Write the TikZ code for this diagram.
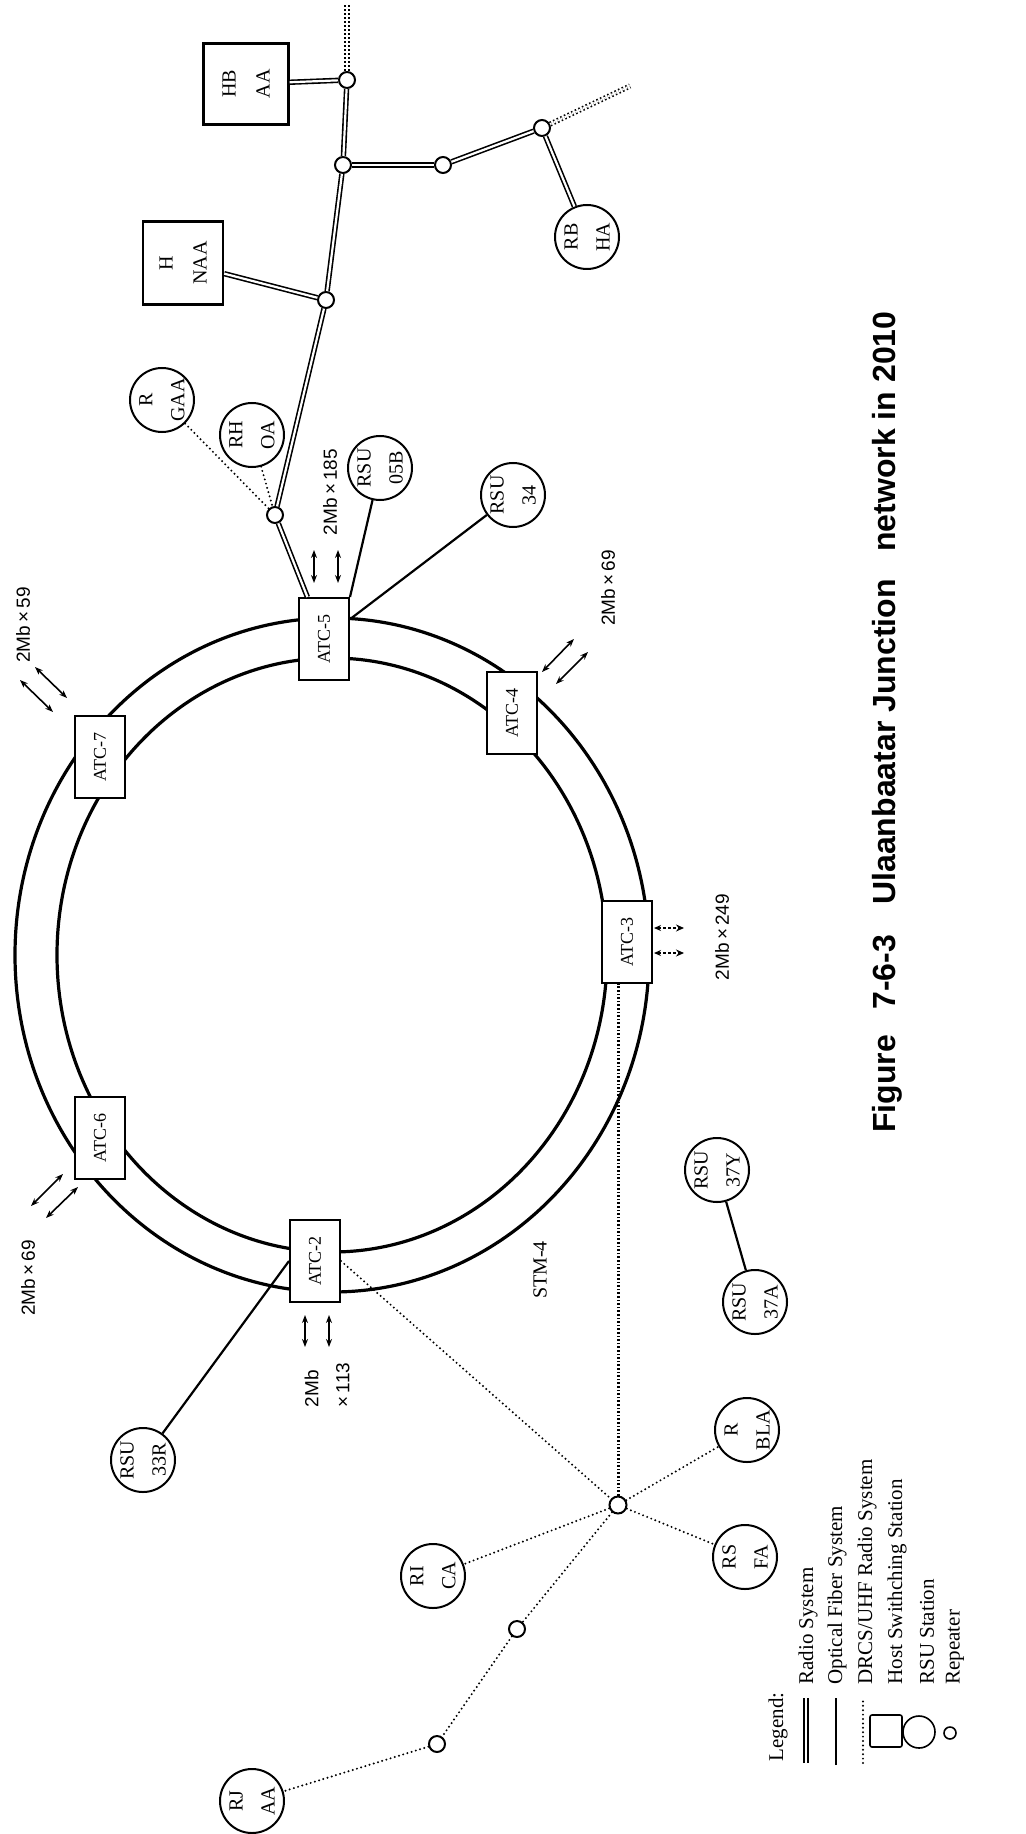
\documentclass[tikz,border=0pt]{standalone}
\usepackage{fontspec}
\setmainfont{Liberation Serif}
\newfontfamily\lsans{Liberation Sans}
\usetikzlibrary{arrows.meta}
\begin{document}
\begin{tikzpicture}[x=0.5pt,y=-0.5pt,
  ringline/.style={line width=1.6pt},
  atc/.style={draw,line width=1pt,fill=white,rotate=90,inner sep=0pt,minimum width=41pt,minimum height=25pt,font=\fontsize{9}{11}\selectfont},
  host/.style={draw,line width=1.2pt,fill=white,rotate=90,inner sep=0pt,align=center,font=\fontsize{10}{17}\selectfont},
  stn/.style={circle,draw,line width=1pt,fill=white,minimum size=32pt,inner sep=0pt,rotate=90,align=center,font=\fontsize{10}{16}\selectfont},
  rep/.style={circle,draw,line width=1pt,fill=white,minimum size=8pt,inner sep=0pt},
  radio/.style={double,double distance=1.1pt,line width=0.8pt},
  radiodot/.style={double,double distance=1pt,line width=0.8pt,dash pattern=on 0.8pt off 1.2pt},
  fiber/.style={line width=1.1pt},
  drcs/.style={line width=1.1pt,line cap=round,dash pattern=on 0pt off 2.2pt},
  drcsthick/.style={line width=1.5pt,dash pattern=on 0.8pt off 1pt},
  dbl/.style={{Stealth[length=4pt,width=3pt]}-{Stealth[length=4pt,width=3pt]},line width=0.8pt},
  dbldash/.style={{Stealth[length=3.5pt,width=3pt]}-{Stealth[length=4pt,width=3.5pt]},line width=0.7pt,dash pattern=on 1.5pt off 1pt},
  lbl/.style={rotate=90,font=\lsans\fontsize{9.5}{15.5}\selectfont,inner sep=0pt},
  lgd/.style={rotate=90,font=\fontsize{10.5}{12}\selectfont,inner sep=1pt},
  ttl/.style={rotate=90,font=\lsans\bfseries\fontsize{16}{18}\selectfont,inner sep=0pt}]
\useasboundingbox (0,0) rectangle (1026,1834);
\fill[white] (0,0) rectangle (1026,1834);

% ring (STM-4)
\draw[ringline] (332,955) ellipse [x radius=317,y radius=337];
\draw[ringline] (332,955) ellipse [x radius=275,y radius=297];

% ATC nodes
\node[atc] (a5) at (324,639) {ATC-5};
\node[atc] (a4) at (512,713) {ATC-4};
\node[atc] (a3) at (627,942) {ATC-3};
\node[atc] (a2) at (315,1261) {ATC-2};
\node[atc] (a6) at (100,1138) {ATC-6};
\node[atc] (a7) at (100,757) {ATC-7};

% host switching stations
\node[host,minimum width=40.5pt,minimum height=42.5pt] (hb) at (246,84) {HB\\AA};
\node[host,minimum width=41.5pt,minimum height=40pt] (nh) at (183,263) {H\\NAA};

% RSU stations
\node[stn] (r05b) at (380,468) {RSU\\05B};
\node[stn] (rhoa) at (252,435) {RH\\OA};
\node[stn] (rgaa) at (162,400) {R\\GAA};
\node[stn] (r34) at (513,495) {RSU\\34};
\node[stn] (rbha) at (587,237) {RB\\HA};
\node[stn] (r33r) at (143,1460) {RSU\\33R};
\node[stn] (rjaa) at (252,1801) {RJ\\AA};
\node[stn] (rica) at (433,1576) {RI\\CA};
\node[stn] (rbla) at (747,1430) {R\\BLA};
\node[stn] (rsfa) at (745,1557) {RS\\FA};
\node[stn] (r37y) at (717,1170) {RSU\\37Y};
\node[stn] (r37a) at (755,1302) {RSU\\37A};

% repeaters
\node[rep] (rA) at (347,80) {};
\node[rep] (rB) at (343,165) {};
\node[rep] (rC) at (443,165) {};
\node[rep] (rD) at (542,128) {};
\node[rep] (rE) at (326,300) {};
\node[rep] (rF) at (275,515) {};
\node[rep,minimum size=8.5pt] (hub) at (618,1505) {};
\node[rep] (rG) at (517,1629) {};
\node[rep] (rI) at (437,1744) {};

\coordinate (topA) at (347,4);
\coordinate (endD) at (630,86);

% radio system
\draw[radio] (hb) -- (rA);
\draw[radio] (rA) -- (rB);
\draw[radio] (rB) -- (rC);
\draw[radio] (rC) -- (rD);
\draw[radio] (rD) -- (rbha);
\draw[radio] (rB) -- (rE);
\draw[radio] (nh) -- (rE);
\draw[radio] (rE) -- (rF);
\draw[radio] (rF) -- (a5);
\draw[radiodot] (rA) -- (topA);
\draw[radiodot] (rD) -- (endD);

% optical fiber
\draw[fiber] (r05b) -- (a5.south east);
\draw[fiber] (r34) -- (a5);
\draw[fiber] (a2.north) -- (r33r);
\draw[fiber] (r37y) -- (r37a);

% DRCS/UHF radio
\draw[drcs] (rgaa) -- (rF);
\draw[drcs] (rhoa) -- (rF);
\draw[drcs] (a2.south) -- (hub);
\draw[drcsthick] (hub) -- (hub |- a3.west);
\draw[drcs] (hub) -- (rbla);
\draw[drcs] (hub) -- (rsfa);
\draw[drcs] (hub) -- (rica);
\draw[drcs] (hub) -- (rG);
\draw[drcs] (rG) -- (rI);
\draw[drcs] (rI) -- (rjaa);

% capacity arrows
\coordinate (p5a) at (314,550); \coordinate (q5a) at (314,583);
\coordinate (p5b) at (338,550); \coordinate (q5b) at (338,583);
\draw[dbl] (p5a) -- (q5a); \draw[dbl] (p5b) -- (q5b);
\coordinate (p7a) at (20,680); \coordinate (q7a) at (53,712);
\coordinate (p7b) at (35,667); \coordinate (q7b) at (67,698);
\draw[dbl] (p7a) -- (q7a); \draw[dbl] (p7b) -- (q7b);
\coordinate (p6a) at (31,1206); \coordinate (q6a) at (63,1174);
\coordinate (p6b) at (46,1218); \coordinate (q6b) at (78,1187);
\draw[dbl] (p6a) -- (q6a); \draw[dbl] (p6b) -- (q6b);
\coordinate (p4a) at (542,672); \coordinate (q4a) at (574,639);
\coordinate (p4b) at (556,684); \coordinate (q4b) at (588,652);
\draw[dbl] (p4a) -- (q4a); \draw[dbl] (p4b) -- (q4b);
\coordinate (p2a) at (305,1315); \coordinate (q2a) at (305,1347);
\coordinate (p2b) at (329,1315); \coordinate (q2b) at (329,1347);
\draw[dbl] (p2a) -- (q2a); \draw[dbl] (p2b) -- (q2b);
\coordinate (p3a) at (654,928); \coordinate (q3a) at (684,928);
\coordinate (p3b) at (654,953); \coordinate (q3b) at (684,953);
\draw[dbldash] (p3a) -- (q3a); \draw[dbldash] (p3b) -- (q3b);

% capacity labels
\node[lbl] (c5) at (330,492) {2Mb\,×\,185};
\node[lbl] (c7) at (23,625) {2Mb\,×\,59};
\node[lbl] (c6) at (28,1278) {2Mb\,×\,69};
\node[lbl] (c4) at (608,588) {2Mb\,×\,69};
\node[lbl] (c3) at (722,937) {2Mb\,×\,249};
\node[lbl,align=left] (c2) at (327,1385) {2Mb\\×\,113};
\node[rotate=90,font=\fontsize{10}{12}\selectfont,inner sep=0pt] (stm) at (540,1270) {STM-4};

% title
\node[ttl,anchor=base west] (t1) at (895,1133) {Figure};
\node[ttl,anchor=base west] (t2) at (895,1010) {7-6-3};
\node[ttl,anchor=base west] (t3) at (895,905) {Ulaanbaatar Junction};
\node[ttl,anchor=base west] (t4) at (895,552) {network in 2010};

% legend
\node[lgd] (lg) at (778,1727) {Legend:};
\coordinate (s1a) at (806,1763); \coordinate (s1b) at (806,1698);
\draw[radio] (s1a) -- (s1b);
\coordinate (s2a) at (836,1765); \coordinate (s2b) at (836,1698);
\draw[fiber] (s2a) -- (s2b);
\coordinate (s3a) at (863,1763); \coordinate (s3b) at (863,1700);
\draw[drcs] (s3a) -- (s3b);
\node[draw,line width=0.8pt,minimum size=16pt,inner sep=0pt,rounded corners=1pt] (lsq) at (886,1731) {};
\node[circle,draw,line width=0.8pt,minimum size=16pt,inner sep=0pt] (lci) at (919,1732) {};
\node[rep,minimum size=6pt,line width=0.8pt] (lre) at (950,1733) {};
\node[lgd,anchor=west] (l1) at (808,1687) {Radio System};
\node[lgd,anchor=west] (l2) at (837,1687) {Optical Fiber System};
\node[lgd,anchor=west] (l3) at (867,1687) {DRCS/UHF Radio System};
\node[lgd,anchor=west] (l4) at (897,1687) {Host Swithching Station};
\node[lgd,anchor=west] (l5) at (927,1687) {RSU Station};
\node[lgd,anchor=west] (l6) at (955,1687) {Repeater};
\end{tikzpicture}
\end{document}
